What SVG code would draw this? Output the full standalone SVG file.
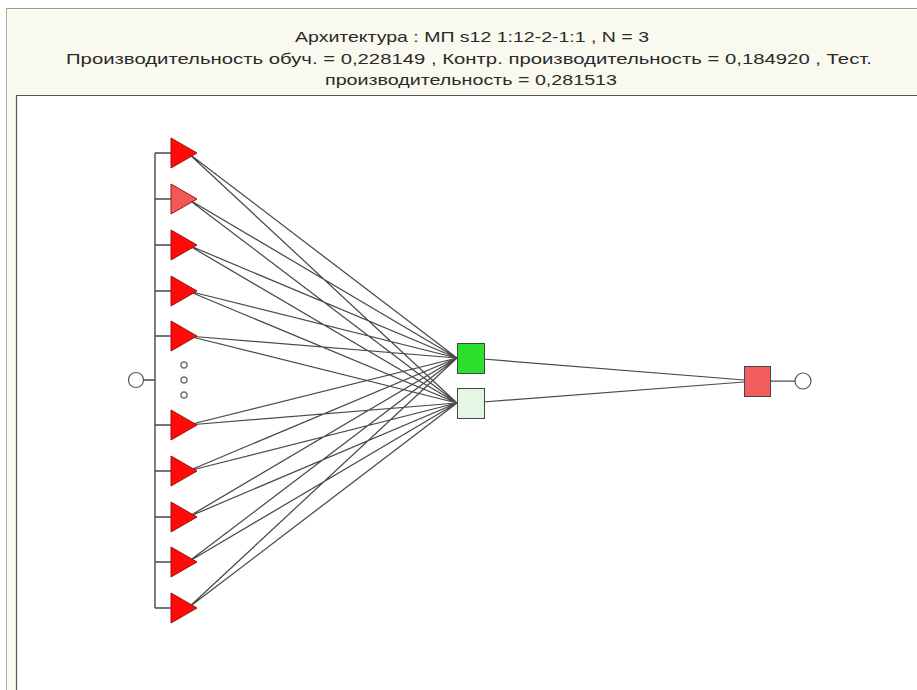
<svg xmlns="http://www.w3.org/2000/svg" width="917" height="690" viewBox="0 0 917 690">
<style>
.hdr{font-family:"Liberation Sans","Noto Sans",Arial,sans-serif;font-size:15px;fill:#2a2a2a;text-anchor:middle}
.tri{stroke:#a01010;stroke-width:1}
.bus{stroke:#4a4a4a;stroke-width:1.4;fill:none}
.con{stroke:#4a4a4a;stroke-width:1.25;fill:none}
.sq{stroke:#444;stroke-width:1}
.io{fill:#fff;stroke:#555;stroke-width:1.2}
.dot{fill:#fff;stroke:#777;stroke-width:1.5}
</style>
<rect x="0" y="0" width="917" height="690" fill="#fff"/>
<rect x="6" y="8" width="911" height="682" fill="#f9f9f0"/>
<line x1="6" y1="8.5" x2="917" y2="8.5" stroke="#9a9a90" stroke-width="1"/>
<line x1="6.5" y1="8" x2="6.5" y2="690" stroke="#b0b0a8" stroke-width="1"/>
<rect x="16" y="95" width="901" height="595" fill="#fff"/>
<line x1="16" y1="95.5" x2="917" y2="95.5" stroke="#555" stroke-width="1.2"/>
<line x1="16.5" y1="95" x2="16.5" y2="690" stroke="#555" stroke-width="1.2"/>
<g id="title">
<text class="hdr" x="472" y="42" textLength="354" lengthAdjust="spacingAndGlyphs">Архитектура : МП s12 1:12-2-1:1 ,  N = 3</text>
<text class="hdr" x="469" y="64" textLength="806" lengthAdjust="spacingAndGlyphs">Производительность обуч. = 0,228149 ,  Контр. производительность = 0,184920 ,  Тест.</text>
<text class="hdr" x="471" y="85" textLength="292" lengthAdjust="spacingAndGlyphs">производительность = 0,281513</text>
</g>
<g id="connectors">
<path class="bus" d="M155,153 V608 M155,153 H171 M155,199 H171 M155,245 H171 M155,291 H171 M155,336 H171 M155,425 H171 M155,471 H171 M155,517 H171 M155,562 H171 M155,608 H171 M143.5,380 H155"/>
<path class="con" d="M188,153 L457,358 M188,153 L457,403
M188,199 L457,358 M188,199 L457,403
M188,245 L457,358 M188,245 L457,403
M188,291 L457,358 M188,291 L457,403
M188,336 L457,358 M188,336 L457,403
M188,425 L457,358 M188,425 L457,403
M188,471 L457,358 M188,471 L457,403
M188,517 L457,358 M188,517 L457,403
M188,562 L457,358 M188,562 L457,403
M188,608 L457,358 M188,608 L457,403
M470,358 L757,381 M470,403 L757,381 M771,381 H795"/>
</g>
<g id="input-circle"><circle class="io" cx="136" cy="380" r="7.5"/></g>
<g id="ellipsis">
<circle class="dot" cx="184" cy="365" r="3"/>
<circle class="dot" cx="184" cy="380" r="3"/>
<circle class="dot" cx="184" cy="395" r="3"/>
</g>
<g id="in1"><polygon class="tri" fill="#ff0a0a" points="171,138 197,153 171,168"/></g>
<g id="in2"><polygon class="tri" fill="#f25858" points="171,184 197,199 171,214"/></g>
<g id="in3"><polygon class="tri" fill="#ff0a0a" points="171,230 197,245 171,260"/></g>
<g id="in4"><polygon class="tri" fill="#ff0a0a" points="171,276 197,291 171,306"/></g>
<g id="in5"><polygon class="tri" fill="#ff0a0a" points="171,321 197,336 171,351"/></g>
<g id="in6"><polygon class="tri" fill="#ff0a0a" points="171,410 197,425 171,440"/></g>
<g id="in7"><polygon class="tri" fill="#ff0a0a" points="171,456 197,471 171,486"/></g>
<g id="in8"><polygon class="tri" fill="#ff0a0a" points="171,502 197,517 171,532"/></g>
<g id="in9"><polygon class="tri" fill="#ff0a0a" points="171,547 197,562 171,577"/></g>
<g id="in10"><polygon class="tri" fill="#ff0a0a" points="171,593 197,608 171,623"/></g>
<g id="hidden1"><rect class="sq" x="457.5" y="343.5" width="27" height="30" fill="#2ee02e"/></g>
<g id="hidden2"><rect class="sq" x="457.5" y="388.5" width="27" height="30" fill="#e4f6e4"/></g>
<g id="output"><rect class="sq" x="744.5" y="366.5" width="26" height="30" fill="#f25e5e"/></g>
<g id="output-circle"><circle class="io" cx="803" cy="381" r="8"/></g>
</svg>
